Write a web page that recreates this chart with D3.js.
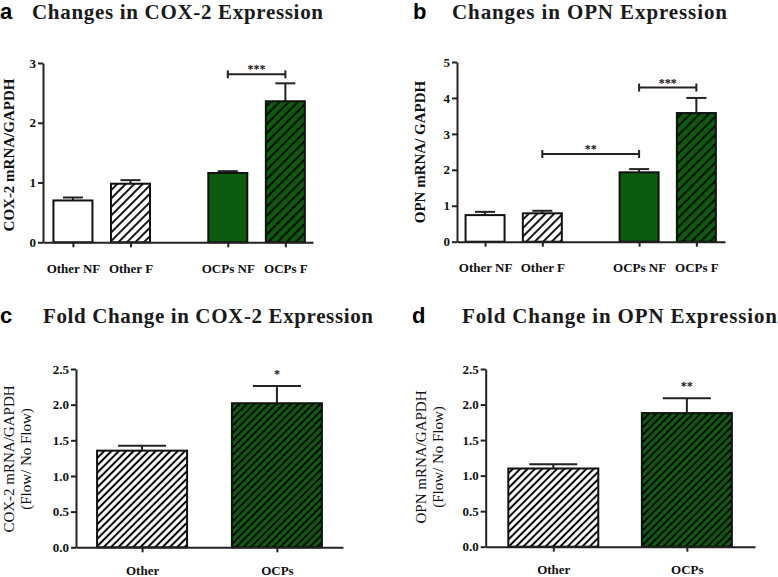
<!DOCTYPE html>
<html><head><meta charset="utf-8">
<script src="https://cdn.jsdelivr.net/npm/d3@7"></script>
<style>body{margin:0;background:#fff}</style>
</head><body>
<script>
// ---------- data ----------
const groupsAB = ["Other NF","Other F","OCPs NF","OCPs F"];
const cox2Mean = [0.70, 0.98, 1.16, 2.36];
const cox2Sem  = [0.05, 0.06, 0.03, 0.30];
const opnMean  = [0.74, 0.79, 1.93, 3.58];
const opnSem   = [0.09, 0.07, 0.09, 0.42];
const groupsCD = ["Other","OCPs"];
const cox2FoldMean = [1.355, 2.02];
const cox2FoldSem  = [0.07, 0.24];
const opnFoldMean  = [1.10, 1.88];
const opnFoldSem   = [0.06, 0.21];
const ticksA  = [0,1,2,3];
const ticksB  = [0,1,2,3,4,5];
const ticksCD = [0,0.5,1.0,1.5,2.0,2.5];
const fillsAB = ["white","whiteHatch","green","greenHatch"];
const fillsCD = ["whiteHatch","greenHatch"];
const sigA = [{from:2,to:3,value:2.81,label:"***"}];
const sigB = [{from:1,to:2,value:2.44,label:"**"},{from:2,to:3,value:4.29,label:"***"}];
const starC = [{at:1,value:2.46,label:"*"}];
const starD = [{at:1,value:2.29,label:"**"}];

// ---------- setup ----------
const W = 778, H = 577;
const GREEN = "#0d5c0d";
const svg = d3.select("body").append("svg").attr("width", W).attr("height", H)
  .style("font-family","'Liberation Serif','Times New Roman',serif");
const defs = svg.append("defs");
function hatch(id, size, bg, sw){
  const p = defs.append("pattern").attr("id", id).attr("patternUnits","userSpaceOnUse")
    .attr("width", size).attr("height", size).attr("patternTransform","rotate(45)");
  p.append("rect").attr("width", size).attr("height", size).attr("fill", bg);
  p.append("line").attr("x1",size/2).attr("y1",0).attr("x2",size/2).attr("y2",size)
    .attr("stroke","#000").attr("stroke-width",sw);
}
hatch("wh6", 6, "#fff", 1.8); hatch("gh6", 6.5, GREEN, 1.8);
hatch("wh5", 5.2, "#fff", 2); hatch("gh5", 5.2, GREEN, 1.9);

function fillFor(kind, big){
  if (kind === "white") return "#fff";
  if (kind === "green") return GREEN;
  if (kind === "whiteHatch") return big ? "url(#wh5)" : "url(#wh6)";
  return big ? "url(#gh5)" : "url(#gh6)";
}

function panel(cfg){
  const g = svg.append("g");
  // letter + title
  g.append("text").attr("x", cfg.letterX).attr("y", cfg.titleY)
    .style("font-family","'Liberation Sans',Arial,sans-serif").style("font-weight","bold")
    .style("font-size","22px").attr("fill","#000").text(cfg.letter);
  g.append("text").attr("x", cfg.titleX).attr("y", cfg.titleY)
    .style("font-weight","bold").style("font-size","21px").attr("fill","#1a1a1a")
    .attr("textLength", cfg.titleW).attr("lengthAdjust","spacing").text(cfg.title);

  const pos = i => i + (cfg.gap && i >= 2 ? cfg.gap : 0);
  const x = d3.scaleLinear().domain(cfg.xDomain).range([cfg.x0, cfg.x1]);
  const y = d3.scaleLinear().domain([0, d3.max(cfg.ticks)]).range([cfg.y0, cfg.yTop]);
  const big = cfg.barW > 60;

  const data = cfg.groups.map((name,i)=>({name, i, mean:cfg.mean[i], sem:cfg.sem[i], fill:cfg.fills[i]}));
  // bars
  g.selectAll("rect.bar").data(data).join("rect").attr("class","bar")
    .attr("x", d => x(pos(d.i)) - cfg.barW/2).attr("width", cfg.barW)
    .attr("y", d => y(d.mean)).attr("height", d => y(0) - y(d.mean))
    .attr("fill", d => fillFor(d.fill, big)).attr("stroke","#111").attr("stroke-width",2);
  // error bars
  g.selectAll("line.err").data(data).join("line").attr("class","err")
    .attr("x1", d => x(pos(d.i))).attr("x2", d => x(pos(d.i)))
    .attr("y1", d => y(d.mean)).attr("y2", d => y(d.mean + d.sem))
    .attr("stroke","#222").attr("stroke-width",2);
  g.selectAll("line.cap").data(data).join("line").attr("class","cap")
    .attr("x1", d => x(pos(d.i)) - cfg.capW/2).attr("x2", d => x(pos(d.i)) + cfg.capW/2)
    .attr("y1", d => y(d.mean + d.sem)).attr("y2", d => y(d.mean + d.sem))
    .attr("stroke","#222").attr("stroke-width",2);

  // axes
  const yAx = g.append("g").attr("transform",`translate(${cfg.x0},0)`)
    .call(d3.axisLeft(y).tickValues(cfg.ticks).tickSize(5).tickSizeOuter(0).tickPadding(2)
      .tickFormat(cfg.fmt));
  const xAx = g.append("g").attr("transform",`translate(0,${cfg.y0})`)
    .call(d3.axisBottom(x).tickValues(data.map(d=>pos(d.i))).tickSize(5).tickSizeOuter(0)
      .tickPadding(cfg.xPad).tickFormat((d,k)=>cfg.groups[k]));
  [yAx, xAx].forEach(a => {
    a.select(".domain").attr("stroke","#222").attr("stroke-width",2);
    a.selectAll(".tick line").attr("stroke","#222").attr("stroke-width",2);
    a.selectAll(".tick text").attr("fill","#111")
      .style("font-family","'Liberation Serif','Times New Roman',serif")
      .style("font-weight","bold").style("font-size","13px");
  });

  // y label
  const yl = g.append("text").attr("transform",`translate(${cfg.ylX},${cfg.ylY}) rotate(-90)`)
    .attr("text-anchor","middle").style("font-size","15px")
    .style("font-weight", cfg.ylBold ? "bold" : "normal").attr("fill","#111");
  cfg.ylabel.forEach((t,k) => {
    yl.append("tspan").attr("x",0).attr("dy", k === 0 ? 0 : 17).text(t);
  });

  // significance brackets
  (cfg.sig || []).forEach(s => {
    const xa = x(pos(s.from)), xb = x(pos(s.to)), yy = y(s.value);
    g.append("line").attr("x1",xa).attr("x2",xb).attr("y1",yy).attr("y2",yy)
      .attr("stroke","#222").attr("stroke-width",2);
    [xa,xb].forEach(xx => g.append("line").attr("x1",xx).attr("x2",xx)
      .attr("y1",yy-4).attr("y2",yy+4).attr("stroke","#222").attr("stroke-width",2));
    g.append("text").attr("x",(xa+xb)/2).attr("y",yy-1).attr("text-anchor","middle")
      .style("font-size","12px").style("font-weight","bold").attr("fill","#111").text(s.label);
  });
  (cfg.stars || []).forEach(s => {
    g.append("text").attr("x", x(pos(s.at))).attr("y", y(s.value) + 6).attr("text-anchor","middle")
      .style("font-size","12px").style("font-weight","bold").attr("fill","#111").text(s.label);
  });
}

const fmtInt = d3.format("d"), fmt1 = d3.format(".1f");

panel({letter:"a", letterX:0, title:"Changes in COX-2 Expression", titleX:32, titleW:291, titleY:18.5,
  groups:groupsAB, mean:cox2Mean, sem:cox2Sem, fills:fillsAB, ticks:ticksA, fmt:fmtInt, xPad:16,
  x0:43, x1:313, y0:242.3, yTop:63, xDomain:[-0.52,4.17], gap:0.69, barW:39, capW:20,
  ylabel:["COX-2 mRNA/GAPDH"], ylBold:true, ylX:14, ylY:155, sig:sigA});

panel({letter:"b", letterX:413, title:"Changes in OPN Expression", titleX:452, titleW:275, titleY:18.5,
  groups:groupsAB, mean:opnMean, sem:opnSem, fills:fillsAB, ticks:ticksB, fmt:fmtInt, xPad:16,
  x0:457, x1:725, y0:241.7, yTop:62, xDomain:[-0.49,4.19], gap:0.69, barW:39, capW:20,
  ylabel:["OPN mRNA/ GAPDH"], ylBold:true, ylX:425, ylY:152, sig:sigB});

panel({letter:"c", letterX:0, title:"Fold Change in COX-2 Expression", titleX:43, titleW:330, titleY:323,
  groups:groupsCD, mean:cox2FoldMean, sem:cox2FoldSem, fills:fillsCD, ticks:ticksCD, fmt:fmt1, xPad:13,
  x0:76, x1:343, y0:547.3, yTop:369, xDomain:[-0.49,1.49], gap:0, barW:90, capW:48,
  ylabel:["COX-2 mRNA/GAPDH","(Flow/ No Flow)"], ylBold:false, ylX:14, ylY:459, stars:starC});

panel({letter:"d", letterX:412, title:"Fold Change in OPN Expression", titleX:462, titleW:315, titleY:323,
  groups:groupsCD, mean:opnFoldMean, sem:opnFoldSem, fills:fillsCD, ticks:ticksCD, fmt:fmt1, xPad:13,
  x0:485.7, x1:755, y0:546.7, yTop:369, xDomain:[-0.506,1.51], gap:0, barW:90, capW:48,
  ylabel:["OPN mRNA/GAPDH","(Flow/ No Flow)"], ylBold:false, ylX:426, ylY:457, stars:starD});
</script>
</body></html>
